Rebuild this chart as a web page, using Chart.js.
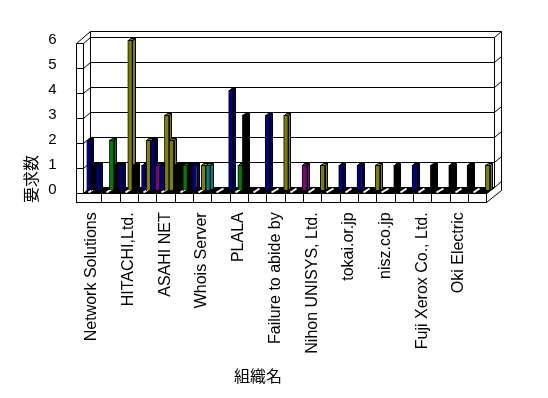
<!DOCTYPE html>
<html>
<head>
<meta charset="utf-8">
<script src="https://cdn.jsdelivr.net/npm/chart.js@4.4.0/dist/chart.umd.min.js"></script>
<style>
  html, body { margin: 0; background: #fff; }
</style>
</head>
<body>
<canvas id="chart" width="548" height="398"></canvas>
<script>
// ---------------- DATA ----------------
const categories = [
  "Network Solutions", "", "HITACHI,Ltd.", "", "ASAHI NET", "", "Whois Server", "",
  "PLALA", "", "Failure to abide by", "", "Nihon UNISYS, Ltd.", "", "tokai.or.jp", "",
  "nisz.co.jp", "", "Fuji Xerox Co., Ltd.", "", "Oki Electric", ""
];
const yTicks = [0, 1, 2, 3, 4, 5, 6];
const xTitle = "組織名";
const yTitle = "要求数";

const series1 = [2, 0, 0, 1, 1, 1, 0, 0, 0, 0, 0, 0, 0, 0, 0, 0, 0, 0, 0, 0, 0, 0];
const series2 = [1, 2, 6, 2, 3, 1, 1, 0, 1, 0, 0, 0, 0, 0, 0, 0, 0, 0, 0, 0, 0, 0];
const series3 = [1, 1, 1, 2, 2, 1, 1, 0, 3, 0, 0, 0, 0, 0, 0, 0, 0, 0, 0, 0, 0, 0];
const series4 = [0, 1, 0, 1, 1, 1, 0, 4, 0, 3, 3, 1, 1, 1, 1, 1, 1, 1, 1, 1, 1, 1];

// ---------------- COLOURS ----------------
const NV = "#000080", BK = "#000000", GR = "#008000", OL = "#808000", PU = "#800080", TE = "#008080";
const colors1 = [NV, BK, BK, NV, NV, BK, BK, BK, BK, BK, BK, BK, BK, BK, BK, BK, BK, BK, BK, BK, BK, BK];
const colors2 = [BK, GR, OL, OL, OL, GR, OL, BK, GR, BK, BK, BK, BK, BK, BK, BK, BK, BK, BK, BK, BK, BK];
const colors3 = [NV, BK, BK, NV, OL, BK, TE, BK, BK, BK, BK, BK, BK, BK, BK, BK, BK, BK, BK, BK, BK, BK];
const colors4 = [BK, NV, BK, PU, BK, NV, BK, NV, BK, NV, OL, PU, OL, NV, NV, OL, BK, NV, BK, BK, BK, OL];

// half of the floor depth, and the depth of one bar
const HALF_DX = 3.65, HALF_DY = 3;
const BAR_DX = 2.2, BAR_DY = -2.4;

const px = v => Math.round(v) + 0.5;

function poly(ctx, pts, fill) {
  ctx.beginPath();
  pts.forEach(([x, y], k) => k ? ctx.lineTo(px(x), px(y)) : ctx.moveTo(px(x), px(y)));
  ctx.closePath();
  if (fill) { ctx.fillStyle = fill; ctx.fill(); }
  ctx.stroke();
}

function line(ctx, x1, y1, x2, y2) {
  ctx.beginPath();
  ctx.moveTo(px(x1), px(y1));
  ctx.lineTo(px(x2), px(y2));
  ctx.stroke();
}

// ---------------- 3D BOX + BAR FACES ----------------
const box3d = {
  id: "box3d",
  beforeDatasetsDraw(chart) {
    const { ctx, chartArea: a } = chart;
    const xs = chart.scales.x, ys = chart.scales.y;
    const fl = a.left - HALF_DX, fr = a.right - HALF_DX;   // front plane
    const bl = a.left + HALF_DX, br = a.right + HALF_DX;   // back plane
    const fy = v => ys.getPixelForValue(v) + HALF_DY;
    const by = v => ys.getPixelForValue(v) - HALF_DY;
    const tx = 2 * HALF_DX, ty = -2 * HALF_DY;             // wall thickness
    const top = yTicks[yTicks.length - 1];
    const wl = fl - tx;
    const slab = fy(0) + 8.5;
    const cw = (a.right - a.left) / categories.length;

    ctx.save();
    ctx.lineWidth = 1;
    ctx.strokeStyle = "#000";

    // floor top
    poly(ctx, [[fl, fy(0)], [fr, fy(0)], [br, by(0)], [bl, by(0)]], "#000");
    ctx.strokeStyle = "#fff";
    ctx.lineWidth = 2;
    categories.forEach((c, i) => {
      const x0 = xs.getPixelForValue(i) - cw / 2 - HALF_DX + 5;
      line(ctx, x0, fy(0) - 1, x0 + tx - 1, by(0) + 1);
    });
    ctx.strokeStyle = "#000";
    ctx.lineWidth = 1;

    // grid on back wall, right edge and left wall
    yTicks.forEach(v => {
      if (v > 0) line(ctx, bl, by(v), br, by(v));
      line(ctx, br, by(v), br + tx, by(v) + ty);
      line(ctx, fl, fy(v), bl, by(v));
      line(ctx, wl, fy(v), fl, fy(v));
    });

    // wall edges
    line(ctx, bl, by(top) + ty, bl, by(0));
    line(ctx, br, by(top), br, by(0));
    line(ctx, bl, by(top) + ty, br + tx, by(top) + ty);
    line(ctx, br + tx, by(top) + ty, br + tx, slab + 2 * ty);
    line(ctx, wl, fy(top), bl, by(top) + ty);
    line(ctx, wl, fy(top), wl, slab);
    line(ctx, fl, fy(top), fl, fy(0));

    // floor slab
    ctx.fillStyle = "#fff";
    ctx.fillRect(px(wl), px(fy(0)), px(fr) - px(wl), px(slab) - px(fy(0)));
    ctx.strokeRect(px(wl), px(fy(0)), px(fr) - px(wl), px(slab) - px(fy(0)));
    for (let i = 1; i < categories.length; i++) {
      const xd = xs.getPixelForValue(i) - cw / 2 - HALF_DX;
      line(ctx, xd, fy(0), xd, slab);
    }
    line(ctx, fr, fy(0), br, by(0));
    line(ctx, fr, slab, fr + 2 * tx, slab + 2 * ty);

    // side and top faces of the bars, left to right
    const bars = [];
    chart.data.datasets.forEach((ds, di) => {
      chart.getDatasetMeta(di).data.forEach((bar, i) => {
        if (!(ds.data[i] > 0)) return;
        const p = bar.getProps(["x", "y", "base", "width"], true);
        bars.push({ ...p, col: ds.backgroundColor[i] });
      });
    });
    bars.sort((p, q) => p.x - q.x);
    bars.forEach(b => {
      const l = b.x - b.width / 2, r = b.x + b.width / 2;
      poly(ctx, [[r, b.y], [r + BAR_DX, b.y + BAR_DY], [r + BAR_DX, b.base + BAR_DY], [r, b.base]], b.col);
      poly(ctx, [[l, b.y], [r, b.y], [r + BAR_DX, b.y + BAR_DY], [l + BAR_DX, b.y + BAR_DY]], b.col);
    });
    ctx.restore();
  },
  afterDraw(chart) {
    const ctx = chart.ctx;
    ctx.save();
    ctx.fillStyle = "#000";
    ctx.font = "16px 'Noto Sans CJK JP'";
    ctx.textAlign = "center";
    ctx.textBaseline = "middle";
    ctx.fillText(xTitle, 258, 376);
    ctx.translate(31, 179);
    ctx.rotate(-Math.PI / 2);
    ctx.fillText(yTitle, 0, 0);
    ctx.restore();
  }
};

// ---------------- CHART ----------------
const seriesList = [series1, series2, series3, series4];
const colorList = [colors1, colors2, colors3, colors4];

new Chart(document.getElementById("chart").getContext("2d"), {
  type: "bar",
  data: {
    labels: categories,
    datasets: seriesList.map((s, k) => ({
      label: "系列" + (k + 1),
      data: s,
      backgroundColor: colorList[k],
      borderColor: "#000",
      borderWidth: 1,
      categoryPercentage: 1,
      barPercentage: 1
    }))
  },
  options: {
    responsive: false,
    animation: false,
    devicePixelRatio: 1,
    layout: { padding: { top: 40.3, right: 58, left: 0, bottom: 0 } },
    plugins: {
      legend: { display: false },
      tooltip: { enabled: false }
    },
    scales: {
      x: {
        grid: { display: false, drawTicks: false },
        border: { display: false },
        ticks: {
          autoSkip: false,
          maxRotation: 90,
          minRotation: 90,
          padding: 22,
          labelOffset: -HALF_DX,
          color: "#000",
          font: { family: "'Liberation Sans', Arial, sans-serif", size: 16 }
        },
        afterFit(s) { s.height = 398 - 190.3; }
      },
      y: {
        min: 0,
        max: 6,
        grid: { display: false, drawTicks: false },
        border: { display: false },
        ticks: {
          padding: 30,
          color: "#000",
          font: { family: "'Liberation Sans', Arial, sans-serif", size: 15 }
        },
        afterBuildTicks(s) { s.ticks = yTicks.map(v => ({ value: v })); },
        afterFit(s) { s.width = 86.5; }
      }
    }
  },
  plugins: [box3d]
});
</script>
</body>
</html>
